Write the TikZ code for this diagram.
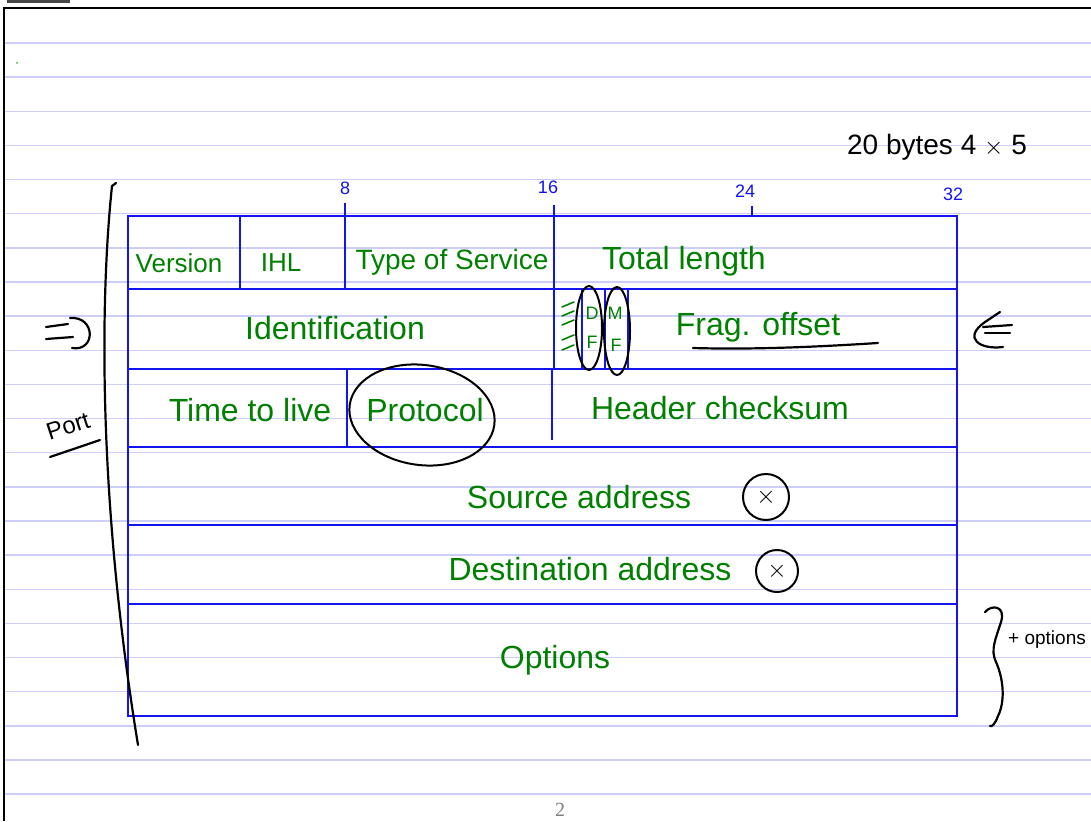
\documentclass[tikz,border=0pt]{standalone}
\usepackage{fontspec}
\setmainfont{Liberation Sans}
\newfontfamily\pagefont{Liberation Serif}
\usetikzlibrary{shapes.geometric}
\definecolor{rulecol}{RGB}{205,205,250}
\definecolor{ink}{RGB}{20,20,240}
\definecolor{gink}{RGB}{0,128,0}
\definecolor{bar}{RGB}{70,70,70}
\begin{document}
\begin{tikzpicture}[x=1pt,y=-1pt,
  rl/.style={draw=rulecol,line width=1.4pt},
  bl/.style={draw=ink,line width=2pt},
  pen/.style={draw=black,line width=2.2pt,line cap=round,line join=round},
  gt/.style={text=gink,font=\fontsize{32}{32}\selectfont,inner sep=0pt},
  gs/.style={text=gink,font=\fontsize{26}{26}\selectfont,inner sep=0pt},
  gf/.style={text=gink,font=\fontsize{18}{18}\selectfont,inner sep=0pt},
  num/.style={text=ink,font=\fontsize{18}{18}\selectfont,inner sep=0pt},
  bt/.style={text=black,inner sep=0pt},
  ring/.style={draw=black,line width=2pt},
  gmark/.style={draw=gink,line width=1.6pt,line cap=round}]
\useasboundingbox (0,0) rectangle (1091,821);
\fill[white] (0,0) rectangle (1091,821);
% ruled paper lines
\foreach \k in {0,...,22} {\draw[rl] (5,{43+34.14*\k}) -- (1091,{43+34.14*\k});}
% page border and top bar
\draw[black,line width=1.5pt] (4,821) -- (4,8) -- (1091,8);
\fill[bar] (7,0) rectangle (70,3);
\fill[gink!70] (17,63) circle (1pt);
% table outline and rows
\draw[bl] (128,216) rectangle (957,716);
\foreach \yy in {289,369,447,525,604} {\draw[bl] (128,\yy) -- (957,\yy);}
% vertical dividers
\draw[bl] (240,216) -- (240,289);
\draw[bl] (345,203) -- (345,289);
\draw[bl] (554,205) -- (554,369);
\draw[bl] (752,206) -- (752,216);
\draw[bl] (582,289) -- (582,369);
\draw[bl] (605,289) -- (605,369);
\draw[bl] (628,289) -- (628,369);
\draw[bl] (347,369) -- (347,447);
\draw[bl] (552,369) -- (552,440);
% bit numbers
\node[num] (n8) at (345,188) {8};
\node[num] (n16) at (548,187) {16};
\node[num] (n24) at (745,191) {24};
\node[num] (n32) at (953,194) {32};
% row 1
\node[gs] (ver) at (179,263) {Version};
\node[gs] (ihl) at (281,263) {IHL};
\node[gt,font=\fontsize{28}{28}\selectfont] (tos) at (452,262) {Type of Service};
\node[gt] (tl) at (684,261) {Total length};
% row 2
\node[gt] (ident) at (335,328) {Identification};
\draw[gmark] (562,307) -- (574,302);
\draw[gmark] (562,316) -- (574,311);
\draw[gmark] (562,325) -- (574,320);
\draw[gmark] (562,340) -- (574,335);
\draw[gmark] (562,350) -- (574,345);
\node[gf] (df1) at (592,313) {D};
\node[gf] (df2) at (592,342) {F};
\node[gf] (mf1) at (615,313) {M};
\node[gf] (mf2) at (616,345) {F};
\node[ring,ellipse,minimum width=26pt,minimum height=84pt,inner sep=0pt] (dfring) at (589,328) {};
\node[ring,ellipse,minimum width=26pt,minimum height=88pt,inner sep=0pt] (mfring) at (617,331) {};
\node[gt] (frag) at (758,327) {Frag. offset};
\draw[pen] (693,348) .. controls (760,350) and (830,346) .. (878,343);
% row 3
\node[gt] (ttl) at (250,410) {Time to live};
\node[gt] (proto) at (425,410) {Protocol};
\node[ring,ellipse,minimum width=146pt,minimum height=100pt,inner sep=0pt,rotate=-8] (protoring) at (422,415) {};
\node[gt] (hcs) at (720,408) {Header checksum};
% row 4,5,6
\node[gt] (src) at (579,497) {Source address};
\node[ring,circle,minimum size=46pt,inner sep=0pt,font=\fontsize{26}{26}\selectfont] (srcx) at (766,497) {$\times$};
\node[gt] (dst) at (590,569) {Destination address};
\node[ring,circle,minimum size=42pt,inner sep=0pt,font=\fontsize{24}{24}\selectfont] (dstx) at (777,571) {$\times$};
\node[gt] (opt) at (555,660) {Options};
% left bracket and marks
\draw[pen] (116,183) -- (112,186) .. controls (100,300) and (98,500) .. (138,745);
\draw[pen] (46,327) -- (68,324);
\draw[pen] (46,339) -- (73,337);
\draw[pen] (70,318) .. controls (96,316) and (96,352) .. (72,348);
\node[bt,rotate=18,font=\fontsize{24}{24}\selectfont] (port) at (68,426) {Port};
\draw[pen] (50,457) -- (100,440);
% right marks
\draw[pen] (1000,312) -- (985,322) .. controls (962,338) and (980,350) .. (1003,347);
\draw[pen] (983,327) -- (1012,325);
\draw[pen] (985,333) -- (1010,333);
\draw[pen] (985,612) .. controls (992,604) and (1006,606) .. (1001,622) .. controls (996,638) and (990,650) .. (996,662) .. controls (1004,680) and (1005,702) .. (998,716) .. controls (995,724) and (992,727) .. (990,726);
\node[bt,anchor=west,font=\fontsize{19}{19}\selectfont] (plusopt) at (1008,640) {+ options};
\node[bt,font=\fontsize{28}{28}\selectfont] (bytes) at (937,147) {20 bytes 4 $\times$ 5};
% page number
\node[text=gray,inner sep=0pt,font=\pagefont\fontsize{20}{20}\selectfont] (pg) at (560,810) {2};
\end{tikzpicture}
\end{document}
